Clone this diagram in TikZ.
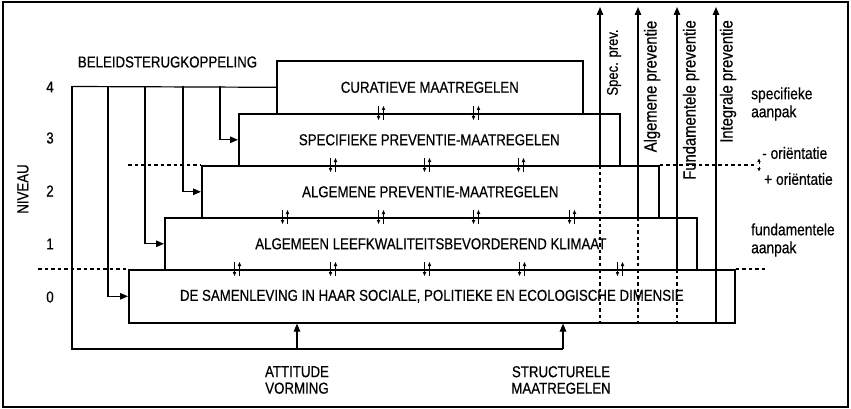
\documentclass[tikz,border=0pt]{standalone}
\usepackage{fontspec}
\newfontfamily\cf{Liberation Sans}[FakeStretch=0.84,FakeBold=0.5]
\usetikzlibrary{arrows.meta}
\begin{document}
\begin{tikzpicture}[x=1pt,y=-1pt,
  box/.style={draw, line width=1.6pt, inner sep=0pt, anchor=north west, font=\cf\fontsize{15.8}{17}\selectfont},
  caps/.style={inner sep=0pt, font=\cf\fontsize{15.8}{16.5}\selectfont},
  lower/.style={inner sep=0pt, font=\cf\fontsize{16.4}{18}\selectfont},
  rot/.style={inner sep=0pt, rotate=90, font=\cf\fontsize{17.6}{18}\selectfont},
  conn/.style={line width=1.2pt},
  arr/.style={-{Triangle[length=8pt,width=6.5pt]}},
  dsh/.style={line width=1.2pt, dash pattern=on 3.5pt off 3pt},
  ud/.pic={
    \draw[line width=0.9pt,-{Triangle[length=4pt,width=3.2pt]}] (-2.5,-7) -- (-2.5,7);
    \draw[line width=0.9pt,-{Triangle[length=4pt,width=3.2pt]}] (2.5,7) -- (2.5,-7);
  },
  pm/.pic={
    \draw[line width=0.8pt,-{Triangle[length=3.5pt,width=3.2pt]}] (0,-1.5) -- (0,-6.5);
    \draw[line width=0.8pt,-{Triangle[length=3.5pt,width=3.2pt]}] (0,1.5) -- (0,6.5);
  }
]
\useasboundingbox (0,0) rectangle (851,409);
\draw[line width=2pt] (3,2) rectangle (848,407);

% boxes
\node[box, minimum width=306pt, minimum height=53pt] (cur)  at (276,60)  {CURATIEVE MAATREGELEN};
\node[box, minimum width=381pt, minimum height=52pt] (spec) at (238,113) {SPECIFIEKE PREVENTIE-MAATREGELEN};
\node[box, minimum width=457pt, minimum height=52pt] (alg)  at (201,165) {ALGEMENE PREVENTIE-MAATREGELEN};
\node[box, minimum width=532pt, minimum height=52pt] (leef) at (164,217) {ALGEMEEN LEEFKWALITEITSBEVORDEREND KLIMAAT};
\node[box, minimum width=606pt, minimum height=53pt] (sam)  at (128,269) {DE SAMENLEVING IN HAAR SOCIALE, POLITIEKE EN ECOLOGISCHE DIMENSIE};

% labels left
\node[caps] (bel) at (167.5,62) {BELEIDSTERUGKOPPELING};
\node[caps, rotate=90] (niv) at (23,189) {NIVEAU};
\node[caps] (n4) at (50,87) {4};
\node[caps] (n3) at (50,138) {3};
\node[caps] (n2) at (50,191) {2};
\node[caps] (n1) at (50,244) {1};
\node[caps] (n0) at (50,297) {0};

% feedback lines
\coordinate (fb) at (72,86.5);
\coordinate (v1) at (108,86.5);
\coordinate (v2) at (145,86.5);
\coordinate (v3) at (183,86.5);
\coordinate (v4) at (220,86.5);
\coordinate (bl) at (72,349);
\coordinate (att) at (297,349);
\coordinate (str) at (563,349);
\draw[conn] (fb) -- (cur.west);
\draw[conn,arr] (v1) |- (sam.west);
\draw[conn,arr] (v2) |- (leef.west);
\draw[conn,arr] (v3) |- (alg.west);
\draw[conn,arr] (v4) |- (spec.west);
\draw[conn] (fb) -- (bl) -- (str);
\draw[conn,arr] (att) -- (att |- sam.south);
\draw[conn,arr] (str) -- (str |- sam.south);
\node[caps, align=center] (attT) at (297,380) {ATTITUDE\\VORMING};
\node[caps, align=center] (strT) at (561,380) {STRUCTURELE\\MAATREGELEN};

% vertical prevention arrows
\coordinate (p1) at (600,7);
\coordinate (p2) at (638,7);
\coordinate (p3) at (677,7);
\coordinate (p4) at (716,7);
\draw[conn,arr] (p1 |- alg.north) -- (p1);
\draw[dsh] (p1 |- alg.north) -- (p1 |- sam.south);
\draw[conn,arr] (p2 |- leef.north) -- (p2);
\draw[dsh] (p2 |- leef.north) -- (p2 |- sam.south);
\draw[conn,arr] (p3 |- sam.north) -- (p3);
\draw[dsh] (p3 |- sam.north) -- (p3 |- sam.south);
\draw[conn,arr] (p4 |- sam.south) -- (p4);
\node[rot, font=\cf\fontsize{15.5}{18}\selectfont] (l1) at (614,62.5) {Spec. prev.};
\node[rot] (l2) at (652,86.5) {Algemene preventie};
\node[rot] (l3) at (691,100) {Fundamentele preventie};
\node[rot] (l4) at (728,81.5) {Integrale preventie};

% dashed level lines
\coordinate (d1) at (128,165);
\coordinate (d2) at (756,165);
\coordinate (d3) at (38,269);
\coordinate (d4) at (767,269);
\draw[dsh] (d1) -- (alg.north west);
\draw[dsh] (alg.north east) -- (d2);
\draw[dsh] (d3) -- (sam.north west);
\draw[dsh] (sam.north east) -- (d4);
\pic at (759,165) {pm};

% right labels
\node[lower, align=left, anchor=west] (spa) at (751,104) {specifieke\\aanpak};
\node[lower, anchor=west] (om) at (762,153) {- oriëntatie};
\node[lower, anchor=west] (op) at (764,179) {+ oriëntatie};
\node[lower, align=left, anchor=west] (fua) at (751,240) {fundamentele\\aanpak};

% double arrows
\foreach \x in {381,476} \pic at (\x,113) {ud};
\foreach \x in {333,427,521} \pic at (\x,165) {ud};
\foreach \x in {285,381,476,572} \pic at (\x,217) {ud};
\foreach \x in {237,333,427,522,620} \pic at (\x,269) {ud};
\end{tikzpicture}
\end{document}
